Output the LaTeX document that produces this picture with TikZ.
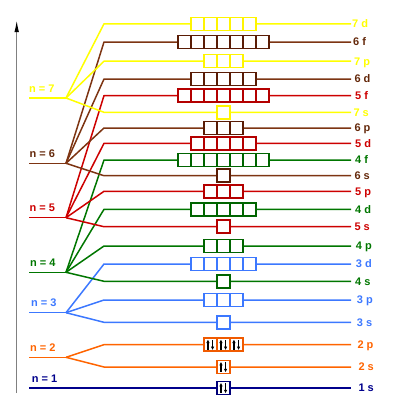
\documentclass[tikz,border=0pt]{standalone}
\usepackage{fontspec}
\setmainfont{Liberation Sans}
\usetikzlibrary{arrows.meta,calc}
\definecolor{c7}{RGB}{255,255,0}
\definecolor{c6}{RGB}{125,52,18}
\definecolor{c5}{RGB}{205,0,0}
\definecolor{c4}{RGB}{0,118,0}
\definecolor{c3}{RGB}{60,120,255}
\definecolor{c2}{RGB}{255,100,0}
\definecolor{c1}{RGB}{0,0,140}
\definecolor{ob7}{RGB}{255,245,0}
\definecolor{ob6}{RGB}{90,28,5}
\definecolor{ob5}{RGB}{180,0,0}
\definecolor{ob4}{RGB}{0,100,0}
\definecolor{ob3}{RGB}{60,120,255}
\definecolor{ob2}{RGB}{240,90,0}
\definecolor{ob1}{RGB}{0,0,120}
\definecolor{t6}{RGB}{100,40,10}
\colorlet{t7}{c7}\colorlet{t5}{c5}\colorlet{t4}{c4}\colorlet{t3}{c3}\colorlet{t2}{c2}\colorlet{t1}{c1}
\begin{document}
\begin{tikzpicture}[x=1pt,y=-1pt,
  lvl/.style={line width=1.5pt,line join=round},
  orb/.style={draw,fill=white,line width=1.5pt,minimum width=13pt,minimum height=13pt,inner sep=0pt,anchor=west},
  lab/.style={font=\fontsize{11}{13}\selectfont\bfseries,inner sep=0pt,anchor=base west},
  spin/.style={line width=1.1pt,black,-{Latex[length=3.6pt,width=3.6pt]}},
  axis/.style={line width=1.2pt,gray,-{Latex[length=12pt,width=4.5pt,black]}}]
\useasboundingbox (0,0) rectangle (405,407);
% energy axis
\coordinate (ax0) at (16.7,393);
\coordinate (ax1) at (16.7,20);
\draw[axis] (ax0) -- (ax1);
% principal levels
\foreach \n/\y/\lx in {7/98/29,6/163.3/29.3,5/217.7/29.3,4/272.3/30,3/312.7/31,2/357.3/30,1/388/31.7}{
  \coordinate (L\n) at (29.3,\y);
  \coordinate (B\n) at (66,\y);
  \node[lab,text=t\n] (N\n) at (\lx,\y-6) {n = \n};
}
% subshell lines
\foreach \s/\n/\l/\y/\k/\lx in {
  7d/7/d/23.8/5/352, 6f/6/f/42/7/353, 7p/7/p/61.2/3/354, 6d/6/d/79/5/354.3,
  5f/5/f/95.6/7/355, 7s/7/s/112.3/1/353.3, 6p/6/p/128/3/354.3, 5d/5/d/143.3/5/355,
  4f/4/f/160/7/355, 6s/6/s/175.7/1/354.3, 5p/5/p/191.3/3/355, 4d/4/d/209.3/5/355,
  5s/5/s/226.7/1/354.3, 4p/4/p/246/3/355.7, 3d/3/d/264/5/355.7, 4s/4/s/281.3/1/355,
  3p/3/p/300/3/356.7, 3s/3/s/322.3/1/356.7, 2p/2/p/344.7/3/357.3, 2s/2/s/367/1/358.3,
  1s/1/s/388/1/358.3}{
  \coordinate (A\s) at (104,\y);
  \coordinate (E\s) at (351,\y);
  \draw[lvl,c\n] (B\n) -- (A\s) -- (E\s);
}
\foreach \n in {7,6,5,4,3,2,1}{\draw[lvl,c\n] (L\n) -- (B\n);}
% orbital boxes and labels
\foreach \s/\n/\l/\y/\k/\lx in {
  7d/7/d/23.8/5/352, 6f/6/f/42/7/353, 7p/7/p/61.2/3/354, 6d/6/d/79/5/354.3,
  5f/5/f/95.6/7/355, 7s/7/s/112.3/1/353.3, 6p/6/p/128/3/354.3, 5d/5/d/143.3/5/355,
  4f/4/f/160/7/355, 6s/6/s/175.7/1/354.3, 5p/5/p/191.3/3/355, 4d/4/d/209.3/5/355,
  5s/5/s/226.7/1/354.3, 4p/4/p/246/3/355.7, 3d/3/d/264/5/355.7, 4s/4/s/281.3/1/355,
  3p/3/p/300/3/356.7, 3s/3/s/322.3/1/356.7, 2p/2/p/344.7/3/357.3, 2s/2/s/367/1/358.3,
  1s/1/s/388/1/358.3}{
  \foreach \i in {1,...,\k}{
    \node[orb,draw=ob\n] (O\s\i) at ({222.5-6.5*\k+13*(\i-1)},\y) {};
  }
  \node[lab,text=t\n] (T\s) at (\lx,\y+3.9) {\n{} \l};
}
% electrons
\foreach \o in {O2p1,O2p2,O2p3,O2s1,O1s1}{
  \draw[spin] ($(\o.center)+(-2.3,5.2)$) -- ($(\o.center)+(-2.3,-5.2)$);
  \draw[spin] ($(\o.center)+(2.3,-4.6)$) -- ($(\o.center)+(2.3,5.4)$);
}
\end{tikzpicture}
\end{document}
